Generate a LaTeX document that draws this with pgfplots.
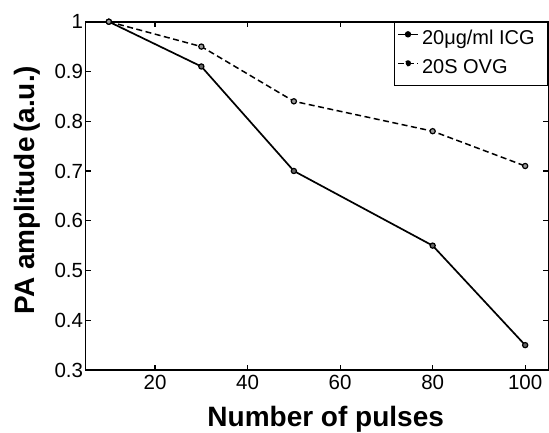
\documentclass[border=0pt]{standalone}
\usepackage{pgfplots}
\pgfplotsset{compat=1.18}
\usepackage{fontspec}
\setmainfont{Liberation Sans}

\begin{document}
\begin{tikzpicture}
% page frame: 549 x 432, axis box at (85.7,62) from lower left
\useasboundingbox (-85.7pt,-62pt) rectangle (463.3pt,370pt);
\begin{axis}[
  at={(0,0)}, anchor=south west,
  scale only axis,
  width=462.6pt, height=348.3pt,
  xmin=5, xmax=105,
  ymin=0.3, ymax=1,
  xtick={20,40,60,80,100},
  ytick={0.3,0.4,0.5,0.6,0.7,0.8,0.9,1},
  yticklabels={0.3,0.4,0.5,0.6,0.7,0.8,0.9,1},
  tick align=inside,
  major tick length=5pt,
  axis line style={line width=1.6pt},
  tick style={line width=1.2pt, black},
  ticklabel style={font=\fontsize{20.5}{23}\selectfont, inner sep=0pt},
  xticklabel style={yshift=-5pt},
  yticklabel style={xshift=-2.5pt},
  /pgf/number format/assume math mode=true,
  xlabel={\textbf{Number of pulses}},
  ylabel={\textbf{PA amplitude\,(a.u.)}},
  label style={font=\fontsize{28}{32}\selectfont, inner sep=0pt},
  xlabel style={at={(axis description cs:0.5,0)}, anchor=base, yshift=-56.7pt, xshift=8.7pt},
  % ylabel is rotated by 90: its xshift moves it up, its yshift moves it left
  ylabel style={at={(axis description cs:0,0.5)}, anchor=base, yshift=50.7pt, xshift=5.8pt},
  legend style={at={(1,1)}, anchor=north east, draw=black, line width=1.2pt,
    font=\fontsize{20}{22}\selectfont, inner xsep=3pt, inner ysep=8pt, row sep=11pt,
    nodes={inner sep=0pt, text height=14pt, text depth=4pt}},
  legend cell align=left,
  legend image code/.code={
    \draw[#1, line width=1.4pt] (0pt,5pt) -- (20pt,5pt);
    \fill[black] (10pt,5pt) circle (2.3pt);},
]
\addplot[black, line width=1.7pt, mark=*, mark size=2.6pt,
  mark options={solid, fill=black!60, line width=1.2pt}]
  coordinates {(10,1) (30,0.91) (50,0.70) (80,0.55) (100,0.35)};
\addlegendentry{\,20μg/ml ICG\hspace*{10pt}}
\addplot[black, line width=1.5pt, dash pattern=on 6pt off 3.5pt, mark=*, mark size=2.6pt,
  mark options={solid, fill=black!40, line width=1.2pt}]
  coordinates {(10,1) (30,0.95) (50,0.84) (80,0.78) (100,0.71)};
\addlegendentry{\,20S OVG}
\end{axis}
\end{tikzpicture}
\end{document}
